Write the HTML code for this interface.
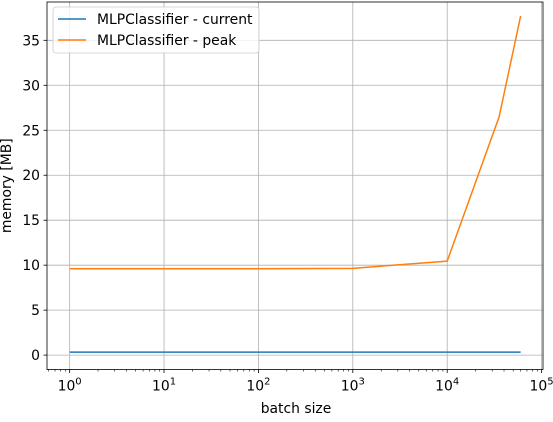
<!DOCTYPE html>
<html><head><meta charset="utf-8"><style>
body{margin:0;background:#fff;}
svg{font-family:"DejaVu Sans","Liberation Sans",sans-serif;}
</style></head><body>
<svg id="chart" width="553" height="417" xmlns="http://www.w3.org/2000/svg"></svg>
<script>
const batchSizes=[1,10,100,1000,10000,35500,60000];
const currentMem=[0.33,0.33,0.33,0.33,0.33,0.33,0.33];
const peakMem=[9.6,9.6,9.6,9.65,10.45,26.5,37.7];
const yTicks=[0,5,10,15,20,25,30,35];
const xTickExps=[0,1,2,3,4,5];
const L=47,R=543,T=2,B=369.5;
const xmin=-0.24,xmax=5.015,ymin=-1.6,ymax=39.26;
const FS=13.9;
const sx=v=>L+(Math.log10(v)-xmin)/(xmax-xmin)*(R-L);
const sy=v=>B-(v-ymin)/(ymax-ymin)*(B-T);
const svg=document.getElementById('chart');
const NS='http://www.w3.org/2000/svg';
function mk(tag,attrs,parent){const e=document.createElementNS(NS,tag);for(const k in attrs)e.setAttribute(k,attrs[k]);(parent||svg).appendChild(e);return e;}
const grid=mk('g',{});


const ticks=mk('g',{});


yTicks.forEach(v=>{const y=sy(v);
 mk('line',{x1:L,x2:R,y1:y,y2:y,stroke:'#b0b0b0','stroke-width':0.8},grid);
 mk('line',{x1:L-3.5,x2:L,y1:y,y2:y,stroke:'#000','stroke-width':0.8},ticks);
 const t=mk('text',{x:L-7,y:y+5,'text-anchor':'end','font-size':FS},ticks);t.textContent=v;
 
 
});
xTickExps.forEach(e=>{const x=sx(Math.pow(10,e));
 mk('line',{x1:x,x2:x,y1:T,y2:B,stroke:'#b0b0b0','stroke-width':0.8},grid);
 mk('line',{x1:x,x2:x,y1:B,y2:B+3.5,stroke:'#000','stroke-width':0.8},ticks);
 const t=mk('text',{x:x,y:B+21,'text-anchor':'middle','font-size':FS},ticks);
 
 
 t.innerHTML='10<tspan dy="-6" font-size="10">'+e+'</tspan>';
});
for(let e=-1;e<=5;e++)for(let m=2;m<=9;m++){const v=m*Math.pow(10,e);const lv=Math.log10(v);if(lv<xmin||lv>xmax)continue;const x=sx(v);
 mk('line',{x1:x,x2:x,y1:B,y2:B+2,stroke:'#000','stroke-width':0.6},ticks);}
function series(vals,color,name){const p=batchSizes.map((b,i)=>sx(b)+','+sy(vals[i])).join(' ');
 const l=mk('polyline',{points:p,fill:'none',stroke:color,'stroke-width':1.5});
 
 }
series(currentMem,'#1f77b4','current-line');
series(peakMem,'#ff7f0e','peak-line');
const fr=mk('rect',{x:L,y:T,width:R-L,height:B-T,fill:'none',stroke:'#000','stroke-width':0.8});


const xl=mk('text',{x:(L+R)/2+1,y:413,'text-anchor':'middle','font-size':FS});xl.textContent='batch size';


const yl=mk('text',{x:0,y:0,'text-anchor':'middle','font-size':FS,transform:'translate(11,'+(T+B)/2+') rotate(-90)'});yl.textContent='memory [MB]';


const lg=mk('g',{});


mk('rect',{x:53,y:7,width:206,height:46,rx:3,fill:'#fff','fill-opacity':0.8,stroke:'#ccc','stroke-width':0.8},lg);
[['MLPClassifier - current','#1f77b4',19],['MLPClassifier - peak','#ff7f0e',40]].forEach(([txt,c,y])=>{
 const g=mk('g',{},lg);
 
 
 mk('line',{x1:58,x2:86,y1:y,y2:y,stroke:c,'stroke-width':1.5},g);
 const t=mk('text',{x:97,y:y+5,'font-size':FS},g);t.textContent=txt;});
</script>
</body></html>
